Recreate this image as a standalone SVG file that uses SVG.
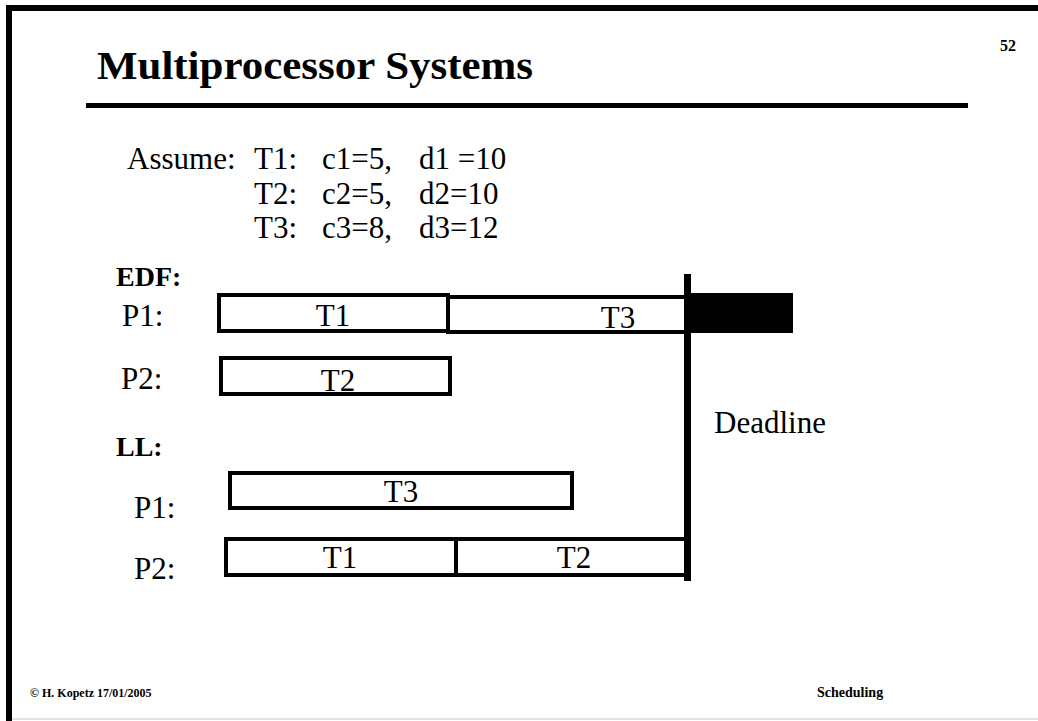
<svg xmlns="http://www.w3.org/2000/svg" width="1038" height="721" viewBox="0 0 1038 721">
<style>
.t{font-family:"Liberation Serif","Times New Roman",serif;fill:#000}
.r{font-size:31px}
.h{font-size:28px;font-weight:bold}
.b{font-weight:bold}
.bar{fill:#fff;stroke:#000;stroke-width:4}
.ln{stroke:#000;fill:none}
</style>
<rect x="0" y="0" width="1038" height="721" fill="#fff"/>
<g id="frame">
<rect x="6" y="5" width="1032" height="6" fill="#000"/>
<rect x="6" y="5" width="6" height="716" fill="#000"/>
<line x1="12" y1="719" x2="1038" y2="719" stroke="#ddd" stroke-width="1.5"/>
</g>
<g id="title">
<text class="t b" x="97" y="79" font-size="40" textLength="436" lengthAdjust="spacingAndGlyphs">Multiprocessor Systems</text>
<rect x="86" y="103" width="882" height="5" fill="#000"/>
<text class="t b" x="1000" y="51" font-size="16">52</text>
</g>
<g id="assume" class="t r">
<text x="127" y="169">Assume:</text>
<text x="254" y="169">T1:</text>
<text x="322" y="169">c1=5,</text>
<text x="419" y="169">d1 =10</text>
<text x="254" y="204">T2:</text>
<text x="322" y="204">c2=5,</text>
<text x="419" y="204">d2=10</text>
<text x="254" y="238">T3:</text>
<text x="322" y="238">c3=8,</text>
<text x="419" y="238">d3=12</text>
</g>
<g id="edf-label"><text class="t h" x="116" y="286">EDF:</text></g>
<g id="edf-p1">
<text class="t r" x="122" y="326">P1:</text>
<rect class="bar" x="219" y="295" width="229" height="36"/>
<text class="t r" x="333" y="326" text-anchor="middle">T1</text>
<rect class="bar" x="448" y="297" width="238" height="35"/>
<text class="t r" x="618" y="328" text-anchor="middle">T3</text>
<rect x="689" y="293" width="104" height="40" fill="#000"/>
</g>
<g id="edf-p2">
<text class="t r" x="121" y="389">P2:</text>
<rect class="bar" x="221" y="358" width="229" height="36"/>
<text class="t r" x="338" y="391" text-anchor="middle">T2</text>
</g>
<g id="ll-label"><text class="t h" x="116" y="456">LL:</text></g>
<g id="ll-p1">
<text class="t r" x="134" y="518">P1:</text>
<rect class="bar" x="230" y="473" width="342" height="35"/>
<text class="t r" x="401" y="502" text-anchor="middle">T3</text>
</g>
<g id="ll-p2">
<text class="t r" x="134" y="579">P2:</text>
<rect class="bar" x="226" y="539" width="460" height="36"/>
<line class="ln" x1="456" y1="539" x2="456" y2="575" stroke-width="4"/>
<text class="t r" x="340" y="568" text-anchor="middle">T1</text>
<text class="t r" x="574" y="568" text-anchor="middle">T2</text>
</g>
<g id="connectors">
<line class="ln" x1="687.5" y1="274" x2="687.5" y2="581" stroke-width="7"/>
</g>
<g id="deadline"><text class="t r" x="714" y="433">Deadline</text></g>
<g id="footer">
<text class="t b" x="30" y="697" font-size="12">© H. Kopetz 17/01/2005</text>
<text class="t b" x="817" y="697" font-size="14">Scheduling</text>
</g>
</svg>
